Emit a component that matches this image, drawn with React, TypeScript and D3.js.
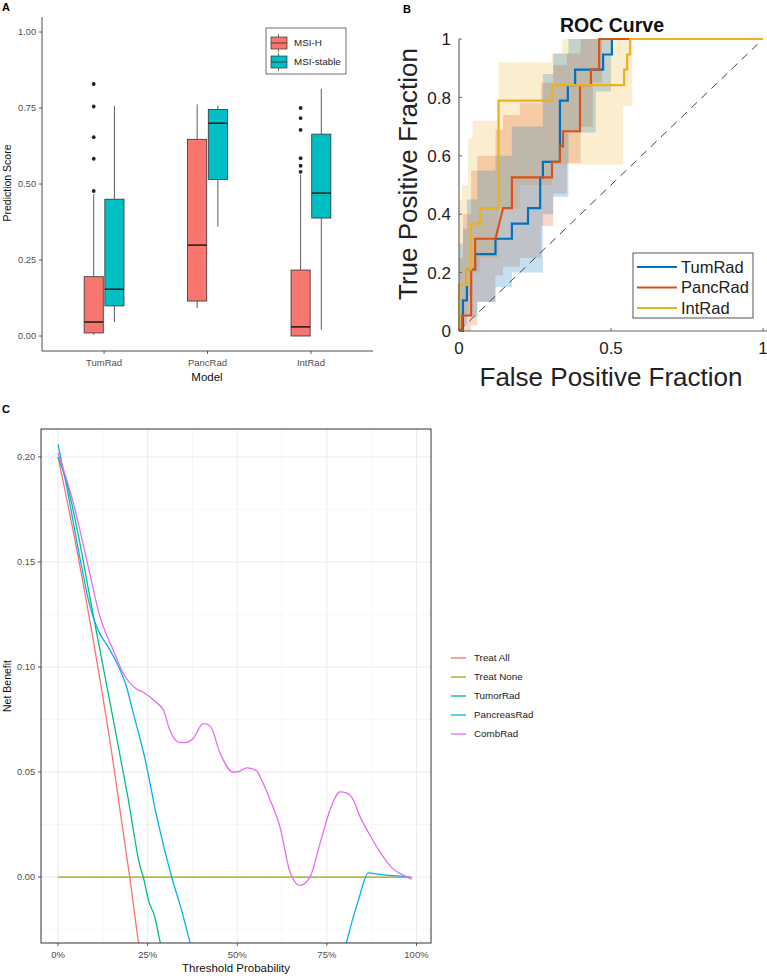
import React from 'react';
import * as d3 from 'd3';

// ---------- Panel A: prediction score boxplots ----------
const models = ['TumRad', 'PancRad', 'IntRad'];
const groups = ['MSI-H', 'MSI-stable'];
const groupColors = ['#F8766D', '#00BFC4'];
// [lower whisker, q1, median, q3, upper whisker]
const msiHStats = [
  [0.004, 0.01, 0.046, 0.195, 0.467],
  [0.092, 0.115, 0.299, 0.647, 0.762],
  [0.0, 0.0, 0.03, 0.217, 0.53],
];
const msiStableStats = [
  [0.046, 0.099, 0.154, 0.45, 0.757],
  [0.36, 0.515, 0.7, 0.745, 0.757],
  [0.02, 0.388, 0.47, 0.664, 0.813],
];
const msiHOutliers = [[0.477, 0.583, 0.654, 0.755, 0.829], [], [0.54, 0.56, 0.585, 0.678, 0.717, 0.75]];
const msiStableOutliers: number[][] = [[], [], []];
const scoreTicks = [0, 0.25, 0.5, 0.75, 1];

// ---------- Panel B: ROC curves ----------
const rocNames = ['TumRad', 'PancRad', 'IntRad'];
const rocColors = ['#0072BD', '#D95319', '#EDB120'];
const tumRadFpr = [0, 0.013, 0.013, 0.026, 0.026, 0.053, 0.053, 0.12, 0.12, 0.174, 0.174, 0.227, 0.227, 0.267, 0.267, 0.276, 0.276, 0.332, 0.332, 0.358, 0.358, 0.382, 0.382, 0.474, 0.474, 0.503, 0.503, 1];
const tumRadTpr = [0, 0, 0.105, 0.105, 0.211, 0.211, 0.263, 0.263, 0.316, 0.316, 0.368, 0.368, 0.421, 0.421, 0.526, 0.526, 0.579, 0.579, 0.789, 0.789, 0.842, 0.842, 0.895, 0.895, 0.947, 0.947, 1, 1];
const pancRadFpr = [0, 0.01, 0.01, 0.04, 0.04, 0.053, 0.053, 0.12, 0.145, 0.174, 0.174, 0.306, 0.306, 0.332, 0.332, 0.342, 0.342, 0.398, 0.398, 0.434, 0.434, 0.461, 0.461, 1];
const pancRadTpr = [0, 0, 0.053, 0.053, 0.211, 0.211, 0.316, 0.316, 0.421, 0.421, 0.526, 0.526, 0.579, 0.579, 0.632, 0.632, 0.684, 0.684, 0.842, 0.842, 0.895, 0.895, 1, 1];
const intRadFpr = [0, 0, 0.026, 0.026, 0.04, 0.04, 0.07, 0.07, 0.13, 0.13, 0.306, 0.306, 0.543, 0.543, 0.553, 0.553, 0.563, 0.563, 1];
const intRadTpr = [0, 0.158, 0.158, 0.211, 0.211, 0.368, 0.368, 0.421, 0.421, 0.789, 0.789, 0.842, 0.842, 0.895, 0.895, 0.947, 0.947, 1, 1];
// confidence bands (step functions of FPR)
const tumBandFpr = [0, 0.013, 0.026, 0.06, 0.12, 0.174, 0.276, 0.31, 0.36, 0.45, 0.5];
const tumBandHi = [0.3, 0.35, 0.45, 0.55, 0.6, 0.7, 0.88, 0.95, 1, 1, 1];
const tumBandLo = [0, 0.02, 0.05, 0.1, 0.15, 0.2, 0.4, 0.46, 0.68, 0.82, 1];
const pancBandFpr = [0, 0.013, 0.04, 0.06, 0.12, 0.145, 0.2, 0.27, 0.31, 0.355, 0.4, 0.44, 0.47];
const pancBandHi = [0.25, 0.4, 0.55, 0.6, 0.69, 0.74, 0.78, 0.85, 0.91, 0.95, 1, 1, 1];
const pancBandLo = [0, 0, 0.02, 0.1, 0.19, 0.22, 0.25, 0.36, 0.47, 0.575, 0.7, 0.85, 1];
const intBandFpr = [0, 0.01, 0.03, 0.045, 0.07, 0.13, 0.2, 0.306, 0.34, 0.43, 0.54, 0.57];
const intBandHi = [0.45, 0.5, 0.66, 0.72, 0.72, 0.92, 0.92, 0.95, 1, 1, 1, 1];
const intBandLo = [0, 0.05, 0.12, 0.2, 0.25, 0.42, 0.5, 0.57, 0.57, 0.57, 0.77, 1];
const rocYTicks = [0, 0.2, 0.4, 0.6, 0.8, 1];
const rocXTicks = [0, 0.5, 1];

// ---------- Panel C: decision curves ----------
const dcaNames = ['Treat All', 'Treat None', 'TumorRad', 'PancreasRad', 'CombRad'];
const dcaColors = ['#F8766D', '#A3A500', '#00BF7D', '#00B0F6', '#E76BF3'];
const treatAllPt = [0, 0.05, 0.1, 0.15, 0.2, 0.225];
const treatAllNb = [0.2, 0.158, 0.111, 0.059, 0.0, -0.032];
const treatNonePt = [0, 0.987];
const treatNoneNb = [0, 0];
const tumorPt = [0, 0.024, 0.061, 0.089, 0.117, 0.145, 0.196, 0.229, 0.238, 0.252, 0.27, 0.285, 0.3];
const tumorNb = [0.2, 0.188, 0.159, 0.133, 0.108, 0.083, 0.037, 0.005, 0, -0.011, -0.019, -0.031, -0.04];
const pancreasPt = [0, 0.024, 0.061, 0.089, 0.108, 0.145, 0.164, 0.192, 0.21, 0.243, 0.275, 0.317, 0.345, 0.368, 0.4, 0.78, 0.805, 0.838, 0.866, 0.889, 0.907, 0.935, 0.982];
const pancreasNb = [0.206, 0.186, 0.152, 0.129, 0.119, 0.108, 0.102, 0.09, 0.078, 0.056, 0.029, 0, -0.016, -0.031, -0.05, -0.05, -0.031, -0.011, 0.002, 0.0015, 0.001, 0.0007, 0];
const combPt = [0, 0.043, 0.08, 0.117, 0.154, 0.182, 0.215, 0.238, 0.275, 0.294, 0.312, 0.34, 0.354, 0.377, 0.405, 0.424, 0.452, 0.488, 0.499, 0.527, 0.555, 0.563, 0.591, 0.619, 0.647, 0.675, 0.703, 0.731, 0.759, 0.787, 0.806, 0.823, 0.842, 0.87, 0.898, 0.934, 0.962, 0.987];
const combNb = [0.202, 0.178, 0.151, 0.124, 0.108, 0.097, 0.09, 0.088, 0.083, 0.0795, 0.07, 0.064, 0.064, 0.066, 0.073, 0.072, 0.059, 0.05, 0.05, 0.052, 0.0505, 0.048, 0.037, 0.024, 0.0024, -0.004, 0.0, 0.016, 0.032, 0.0405, 0.04, 0.037, 0.029, 0.02, 0.012, 0.004, 0.001, -0.001];
const nbTicks = [0, 0.05, 0.1, 0.15, 0.2];
const nbMinor = [-0.025, 0.025, 0.075, 0.125, 0.175];
const ptTicks = [0, 0.25, 0.5, 0.75, 1];
const ptMinor = [0.125, 0.375, 0.625, 0.875];

const SANS = 'Liberation Sans, Arial, Helvetica, sans-serif';
const GRAY = '#4D4D4D';

function PanelA() {
  const x = d3.scaleLinear().domain([0.4, 3.6]).range([42, 373]);
  const y = d3.scaleLinear().domain([0, 1]).range([336, 32]);
  const unit = x(1) - x(0);
  const bw = 0.185 * unit;
  const offs = [-0.1 * unit, 0.1 * unit];
  const allStats = [msiHStats, msiStableStats];
  const allOut = [msiHOutliers, msiStableOutliers];
  return (
    <g>
      <text x={2} y={11} fontFamily={SANS} fontWeight="bold" fontSize={11}>A</text>
      {models.map((m, i) =>
        groups.map((g, gi) => {
          const s = allStats[gi][i];
          const cx = x(i + 1) + offs[gi];
          return (
            <g key={m + g}>
              <line x1={cx} x2={cx} y1={y(s[0])} y2={y(s[1])} stroke="#333" strokeWidth={0.8} />
              <line x1={cx} x2={cx} y1={y(s[3])} y2={y(s[4])} stroke="#333" strokeWidth={0.8} />
              <rect x={cx - bw / 2} y={y(s[3])} width={bw} height={y(s[1]) - y(s[3])} fill={groupColors[gi]} stroke="#333" strokeWidth={0.8} />
              <line x1={cx - bw / 2} x2={cx + bw / 2} y1={y(s[2])} y2={y(s[2])} stroke="#222" strokeWidth={1.6} />
              {allOut[gi][i].map((o, k) => (
                <circle key={k} cx={cx} cy={y(o)} r={1.9} fill="#222" />
              ))}
            </g>
          );
        })
      )}
      <line x1={42} x2={42} y1={17} y2={351} stroke="#222" strokeWidth={0.8} />
      <line x1={42} x2={373} y1={351} y2={351} stroke="#222" strokeWidth={0.8} />
      {scoreTicks.map((t) => (
        <g key={t}>
          <line x1={39} x2={42} y1={y(t)} y2={y(t)} stroke="#333" strokeWidth={0.8} />
          <text x={36} y={y(t)} dy="0.35em" textAnchor="end" fontFamily={SANS} fontSize={9.2} fill={GRAY}>{t.toFixed(2)}</text>
        </g>
      ))}
      {models.map((m, i) => (
        <g key={m}>
          <line x1={x(i + 1)} x2={x(i + 1)} y1={351} y2={354} stroke="#333" strokeWidth={0.8} />
          <text x={x(i + 1)} y={366} textAnchor="middle" fontFamily={SANS} fontSize={9.5} fill={GRAY}>{m}</text>
        </g>
      ))}
      <text x={207} y={381} textAnchor="middle" fontFamily={SANS} fontSize={11.5} fill="#111">Model</text>
      <text transform={`translate(11,183) rotate(-90)`} textAnchor="middle" fontFamily={SANS} fontSize={10.5} fill="#111">Prediction Score</text>
      {/* legend */}
      <rect x={266} y={28} width={80} height={46} fill="#fff" stroke="#333" strokeWidth={0.7} />
      {groups.map((g, gi) => {
        const cy = 43 + gi * 19;
        return (
          <g key={g}>
            <line x1={278.5} x2={278.5} y1={cy - 9} y2={cy + 9} stroke="#333" strokeWidth={0.7} />
            <rect x={271} y={cy - 6} width={16} height={12} fill={groupColors[gi]} stroke="#333" strokeWidth={0.7} />
            <line x1={271} x2={287} y1={cy} y2={cy} stroke="#333" strokeWidth={0.9} />
            <text x={294} y={cy} dy="0.35em" fontFamily={SANS} fontSize={9.8} fill="#222">{g}</text>
          </g>
        );
      })}
    </g>
  );
}

function PanelB() {
  const x = d3.scaleLinear().domain([0, 1]).range([459, 763]);
  const y = d3.scaleLinear().domain([0, 1]).range([331, 39]);
  const line = d3.line<[number, number]>().x((d) => x(d[0])).y((d) => y(d[1]));
  const area = d3
    .area<[number, number, number]>()
    .curve(d3.curveStepAfter)
    .x((d) => x(d[0]))
    .y0((d) => y(d[1]))
    .y1((d) => y(d[2]));
  const bands = [
    { f: intBandFpr, lo: intBandLo, hi: intBandHi, c: rocColors[2] },
    { f: pancBandFpr, lo: pancBandLo, hi: pancBandHi, c: rocColors[1] },
    { f: tumBandFpr, lo: tumBandLo, hi: tumBandHi, c: rocColors[0] },
  ];
  const curves = [
    { f: tumRadFpr, t: tumRadTpr, c: rocColors[0] },
    { f: pancRadFpr, t: pancRadTpr, c: rocColors[1] },
    { f: intRadFpr, t: intRadTpr, c: rocColors[2] },
  ];
  return (
    <g>
      <text x={403} y={13} fontFamily={SANS} fontWeight="bold" fontSize={11}>B</text>
      <text x={612} y={32} textAnchor="middle" fontFamily={SANS} fontWeight="bold" fontSize={19.5} fill="#111">ROC Curve</text>
      {bands.map((b, i) => (
        <path key={i} d={area(b.f.map((v, k) => [v, b.lo[k], b.hi[k]] as [number, number, number])) || ''} fill={b.c} fillOpacity={0.22} stroke="none" />
      ))}
      <line x1={x(0)} y1={y(0)} x2={x(1)} y2={y(1)} stroke="#444" strokeWidth={1} strokeDasharray="8,6" />
      {curves.map((c, i) => (
        <path key={i} d={line(c.f.map((v, k) => [v, c.t[k]] as [number, number])) || ''} fill="none" stroke={c.c} strokeWidth={2.2} />
      ))}
      <line x1={459} x2={459} y1={39} y2={331} stroke="#666" strokeWidth={1.2} />
      <line x1={459} x2={767} y1={331} y2={331} stroke="#666" strokeWidth={1.2} />
      {rocYTicks.map((t) => (
        <g key={t}>
          <line x1={459} x2={462} y1={y(t)} y2={y(t)} stroke="#666" strokeWidth={1} />
          <text x={451} y={y(t)} dy="0.36em" textAnchor="end" fontFamily={SANS} fontSize={17} fill="#222">{String(t)}</text>
        </g>
      ))}
      {rocXTicks.map((t) => (
        <g key={t}>
          <line x1={x(t)} x2={x(t)} y1={331} y2={328} stroke="#666" strokeWidth={1} />
          <text x={x(t)} y={354} textAnchor="middle" fontFamily={SANS} fontSize={17} fill="#222">{String(t)}</text>
        </g>
      ))}
      <text x={611} y={386} textAnchor="middle" fontFamily={SANS} fontSize={26} fill="#222">False Positive Fraction</text>
      <text transform={`translate(417,174) rotate(-90)`} textAnchor="middle" fontFamily={SANS} fontSize={26} fill="#222">True Positive Fraction</text>
      <rect x={633} y={253} width={120} height={65} fill="#fff" stroke="#555" strokeWidth={1} />
      {rocNames.map((n, i) => {
        const cy = 267 + i * 20.5;
        return (
          <g key={n}>
            <line x1={637} x2={677} y1={cy} y2={cy} stroke={rocColors[i]} strokeWidth={2.2} />
            <text x={681} y={cy} dy="0.36em" fontFamily={SANS} fontSize={16.5} fill="#222">{n}</text>
          </g>
        );
      })}
    </g>
  );
}

function PanelC() {
  const x = d3.scaleLinear().domain([-0.0475, 1.0405]).range([41, 431]);
  const y = d3.scaleLinear().domain([-0.0314, 0.2133]).range([943, 429]);
  const line = d3
    .line<[number, number]>()
    .curve(d3.curveMonotoneX)
    .x((d) => x(d[0]))
    .y((d) => y(d[1]));
  const series = [
    { p: treatAllPt, v: treatAllNb },
    { p: treatNonePt, v: treatNoneNb },
    { p: tumorPt, v: tumorNb },
    { p: pancreasPt, v: pancreasNb },
    { p: combPt, v: combNb },
  ];
  return (
    <g>
      <text x={2} y={413} fontFamily={SANS} fontWeight="bold" fontSize={11}>C</text>
      <defs>
        <clipPath id="dcaClip">
          <rect x={41} y={429} width={390} height={514} />
        </clipPath>
      </defs>
      {nbMinor.map((t) => (
        <line key={'ym' + t} x1={41} x2={431} y1={y(t)} y2={y(t)} stroke="#F2F2F2" strokeWidth={0.6} />
      ))}
      {ptMinor.map((t) => (
        <line key={'xm' + t} x1={x(t)} x2={x(t)} y1={429} y2={943} stroke="#F2F2F2" strokeWidth={0.6} />
      ))}
      {nbTicks.map((t) => (
        <line key={'yg' + t} x1={41} x2={431} y1={y(t)} y2={y(t)} stroke="#EBEBEB" strokeWidth={1} />
      ))}
      {ptTicks.map((t) => (
        <line key={'xg' + t} x1={x(t)} x2={x(t)} y1={429} y2={943} stroke="#EBEBEB" strokeWidth={1} />
      ))}
      <g clipPath="url(#dcaClip)">
        {series.map((s, i) => (
          <path key={i} d={line(s.p.map((v, k) => [v, s.v[k]] as [number, number])) || ''} fill="none" stroke={dcaColors[i]} strokeWidth={1.3} />
        ))}
      </g>
      <rect x={41} y={429} width={390} height={514} fill="none" stroke="#333" strokeWidth={1} />
      {nbTicks.map((t) => (
        <g key={t}>
          <line x1={38} x2={41} y1={y(t)} y2={y(t)} stroke="#333" strokeWidth={0.8} />
          <text x={35} y={y(t)} dy="0.35em" textAnchor="end" fontFamily={SANS} fontSize={9.2} fill={GRAY}>{t.toFixed(2)}</text>
        </g>
      ))}
      {ptTicks.map((t) => (
        <g key={t}>
          <line x1={x(t)} x2={x(t)} y1={943} y2={946} stroke="#333" strokeWidth={0.8} />
          <text x={x(t)} y={958} textAnchor="middle" fontFamily={SANS} fontSize={9.5} fill={GRAY}>{`${Math.round(t * 100)}%`}</text>
        </g>
      ))}
      <text x={236} y={972} textAnchor="middle" fontFamily={SANS} fontSize={11.5} fill="#111">Threshold Probability</text>
      <text transform={`translate(11,686) rotate(-90)`} textAnchor="middle" fontFamily={SANS} fontSize={10.5} fill="#111">Net Benefit</text>
      {dcaNames.map((n, i) => {
        const cy = 658 + i * 19;
        return (
          <g key={n}>
            <line x1={451} x2={466} y1={cy} y2={cy} stroke={dcaColors[i]} strokeWidth={1.3} />
            <text x={474} y={cy} dy="0.35em" fontFamily={SANS} fontSize={9.8} fill="#222">{n}</text>
          </g>
        );
      })}
    </g>
  );
}

export default function App() {
  return (
    <svg width={767} height={980} viewBox="0 0 767 980" style={{ position: 'absolute', left: 0, top: 0, background: '#fff' }}>
      <rect x={0} y={0} width={767} height={980} fill="#fff" />
      <PanelA />
      <PanelB />
      <PanelC />
    </svg>
  );
}
